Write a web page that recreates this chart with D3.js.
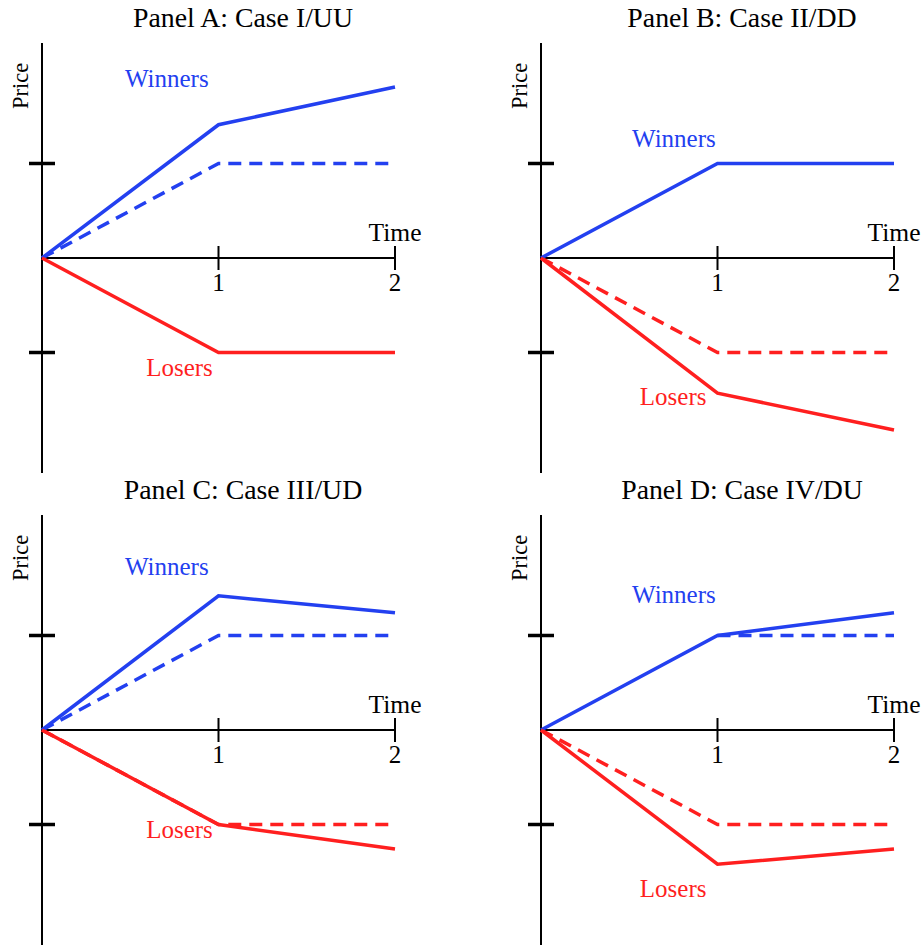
<!DOCTYPE html>
<html><head><meta charset="utf-8">
<script src="https://cdn.jsdelivr.net/npm/d3@7"></script>
<style>html,body{margin:0;padding:0;background:#fff;}svg{display:block;}</style>
</head><body>
<svg id="chart" width="923" height="945"></svg>
<script>
// ---- data ----
const panelTitles = ["Panel A: Case I/UU", "Panel B: Case II/DD", "Panel C: Case III/UD", "Panel D: Case IV/DU"];
const times = [0, 1, 2];
const xTickLabels = ["1", "2"];
const yTickValues = [1, -1];
// series per panel (null = absent)
const winnersSolid  = [[0, 1.41, 1.81], [0, 1, 1],         [0, 1.42, 1.24], [0, 1, 1.24]];
const winnersDashed = [[0, 1, 1],       null,              [0, 1, 1],       [null, 1, 1]];
const losersSolid   = [[0, -1, -1],     [0, -1.43, -1.82], [0, -1, -1.26],  [0, -1.42, -1.26]];
const losersDashed  = [null,            [0, -1, -1],       [0, -1, -1],     [0, -1, -1]];
// label anchors in data units [time, price]
const winnersLabelPos = [[0.47, 1.81], [0.516, 1.17], [0.47, 1.64], [0.516, 1.34]];
const losersLabelPos  = [[0.59, -1.25], [0.56, -1.56], [0.59, -1.14], [0.56, -1.77]];

// ---- layout ----
const svg = d3.select("#chart");
const origins = [[42, 43], [541, 43], [42, 515], [541, 515]];
const W = 353, H = 430;
const blue = "#2340f0", red = "#ff1f1f";
const font = "'Liberation Serif','Times New Roman',serif";

const x = d3.scaleLinear().domain([0, 2]).range([0, W]);
const y = d3.scaleLinear().domain([-2.275, 2.275]).range([H, 0]);
const line = d3.line()
  .defined(d => d[1] != null)
  .x(d => x(d[0])).y(d => y(d[1]));

panelTitles.forEach((title, i) => {
  const g = svg.append("g").attr("transform", `translate(${origins[i][0]},${origins[i][1]})`);

  g.append("text").attr("x", 201).attr("y", -16).attr("text-anchor", "middle")
    .attr("font-family", font).attr("font-size", 27.8).attr("fill", "#000").text(title);

  // y axis
  g.append("line").attr("x1", 0).attr("x2", 0).attr("y1", y(2.275)).attr("y2", y(-2.275))
    .attr("stroke", "#000").attr("stroke-width", 2);
  g.selectAll(".yt").data(yTickValues).enter().append("line")
    .attr("x1", -13).attr("x2", 13).attr("y1", d => y(d)).attr("y2", d => y(d))
    .attr("stroke", "#000").attr("stroke-width", 3.5);

  // x axis
  g.append("line").attr("x1", x(0)).attr("x2", x(2)).attr("y1", y(0)).attr("y2", y(0))
    .attr("stroke", "#000").attr("stroke-width", 1.8);
  g.selectAll(".xt").data([1, 2]).enter().append("line")
    .attr("x1", d => x(d)).attr("x2", d => x(d)).attr("y1", y(0) - 12).attr("y2", y(0) + 12)
    .attr("stroke", "#000").attr("stroke-width", 2);
  g.selectAll(".xl").data(xTickLabels).enter().append("text")
    .attr("x", (d, j) => x(j + 1)).attr("y", y(0) + 33).attr("text-anchor", "middle")
    .attr("font-family", font).attr("font-size", 25).text(d => d);
  g.append("text").attr("x", x(2)).attr("y", y(0) - 17).attr("text-anchor", "middle")
    .attr("font-family", font).attr("font-size", 25.5).text("Time");
  g.append("text").attr("transform", `translate(-14,${y(0) - 172}) rotate(-90)`)
    .attr("text-anchor", "middle").attr("font-family", font).attr("font-size", 22.5).text("Price");

  const series = [
    [winnersDashed[i], blue, true],
    [losersDashed[i], red, true],
    [winnersSolid[i], blue, false],
    [losersSolid[i], red, false]
  ];
  series.forEach(([vals, col, dashed]) => {
    if (!vals) return;
    const pts = times.map((t, k) => [t, vals[k]]);
    g.append("path").datum(pts).attr("d", line)
      .attr("fill", "none").attr("stroke", col).attr("stroke-width", 3.5)
      .attr("stroke-dasharray", dashed ? "13,8" : null);
  });

  g.append("text").attr("x", x(winnersLabelPos[i][0])).attr("y", y(winnersLabelPos[i][1]))
    .attr("font-family", font).attr("font-size", 25).attr("fill", blue).text("Winners");
  g.append("text").attr("x", x(losersLabelPos[i][0])).attr("y", y(losersLabelPos[i][1]))
    .attr("font-family", font).attr("font-size", 25).attr("fill", red).text("Losers");
});
</script>
</body></html>
